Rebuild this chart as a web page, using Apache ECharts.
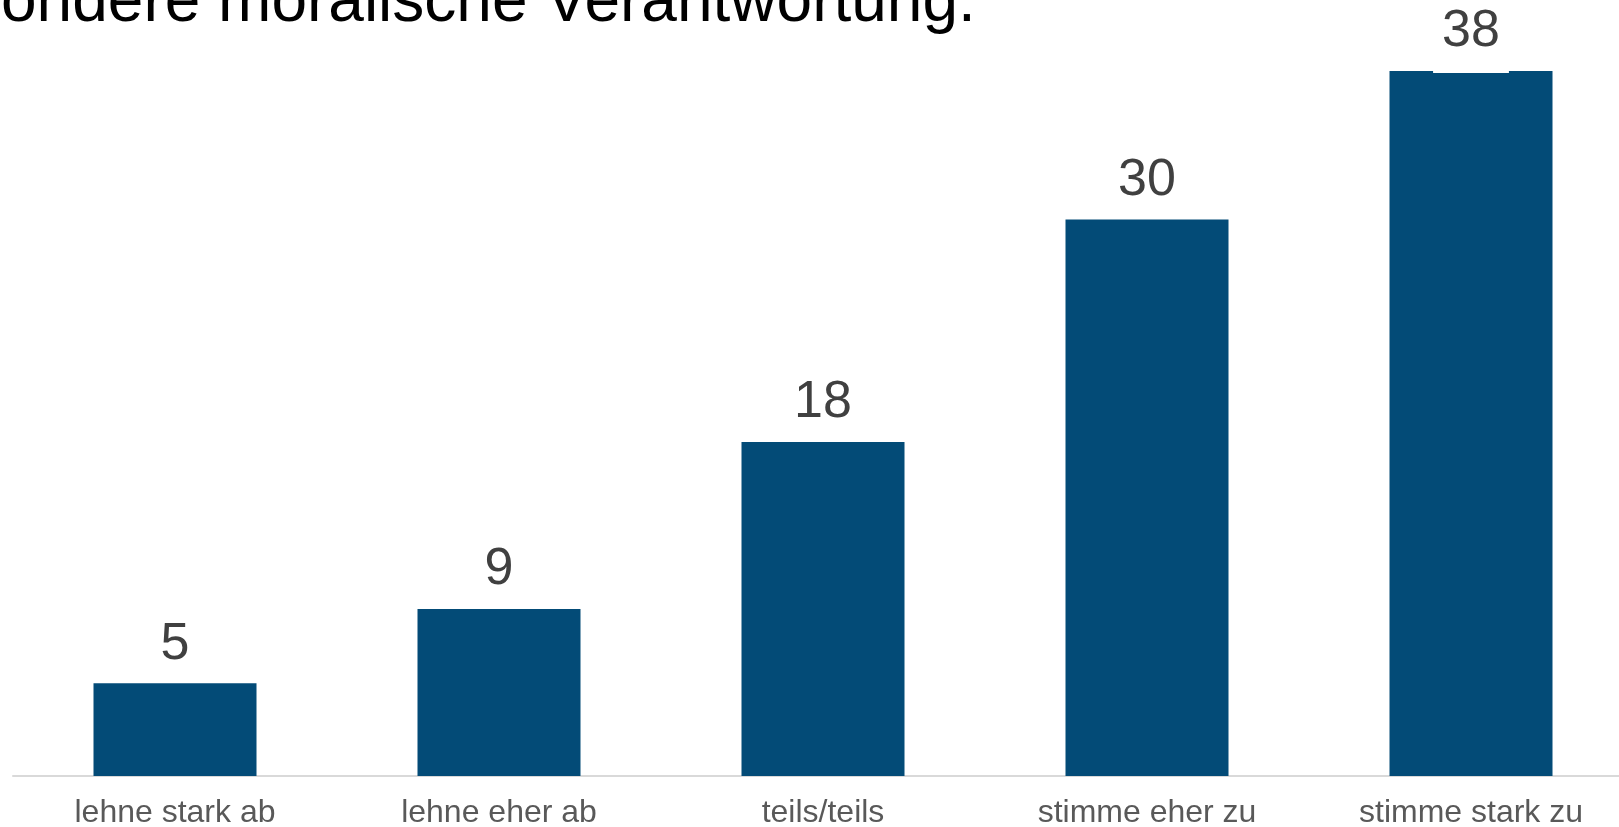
<!DOCTYPE html>
<html>
<head>
<meta charset="utf-8">
<script src="https://cdn.jsdelivr.net/npm/echarts@6/dist/echarts.min.js"></script>
<style>
  html, body { margin: 0; padding: 0; background: #fff; }
  #chart { width: 1619px; height: 827px; }
</style>
</head>
<body>
<div id="chart"></div>
<script>
// Antworten auf einer fünfstufigen Zustimmungsskala (Anteile in Prozent)
const categories = ['lehne stark ab', 'lehne eher ab', 'teils/teils', 'stimme eher zu', 'stimme stark zu'];
const shares = [5, 9, 18, 30, 38];
const titleText = 'ondere moralische Verantwortung.';

const FONT = '"Liberation Sans", Arial, Helvetica, sans-serif';
const BAR_COLOR = '#034b77';

// The tallest bar's label sits on a white plate that just nips the bar top.
const barData = shares.map((v, i) => i === shares.length - 1
  ? { value: v, label: { backgroundColor: '#ffffff', padding: [0, 9, 15, 9], distance: -2 } }
  : v);

const chart = echarts.init(document.getElementById('chart'), null, { renderer: 'canvas' });

chart.setOption({
  animation: false,
  backgroundColor: '#ffffff',
  graphic: [{
    type: 'text',
    left: 1,
    top: -29,
    style: {
      text: titleText,
      font: '64px ' + FONT,
      fill: '#000000'
    }
  }],
  grid: { left: 13, width: 1620, top: 34, bottom: 51, containLabel: false, outerBoundsMode: 'none' },
  xAxis: {
    type: 'category',
    data: categories,
    axisLine: { show: true, lineStyle: { color: '#d9d9d9', width: 2 } },
    axisTick: { show: false },
    axisLabel: { margin: 21, color: '#595959', fontSize: 32, fontFamily: FONT }
  },
  yAxis: {
    type: 'value',
    min: 0,
    max: 40,
    show: false,
    splitLine: { show: false }
  },
  series: [{
    type: 'bar',
    data: barData,
    barWidth: 163,
    itemStyle: { color: BAR_COLOR },
    label: {
      show: true,
      position: 'top',
      distance: 13,
      color: '#404040',
      fontSize: 52,
      fontFamily: FONT
    }
  }]
});
</script>
</body>
</html>
